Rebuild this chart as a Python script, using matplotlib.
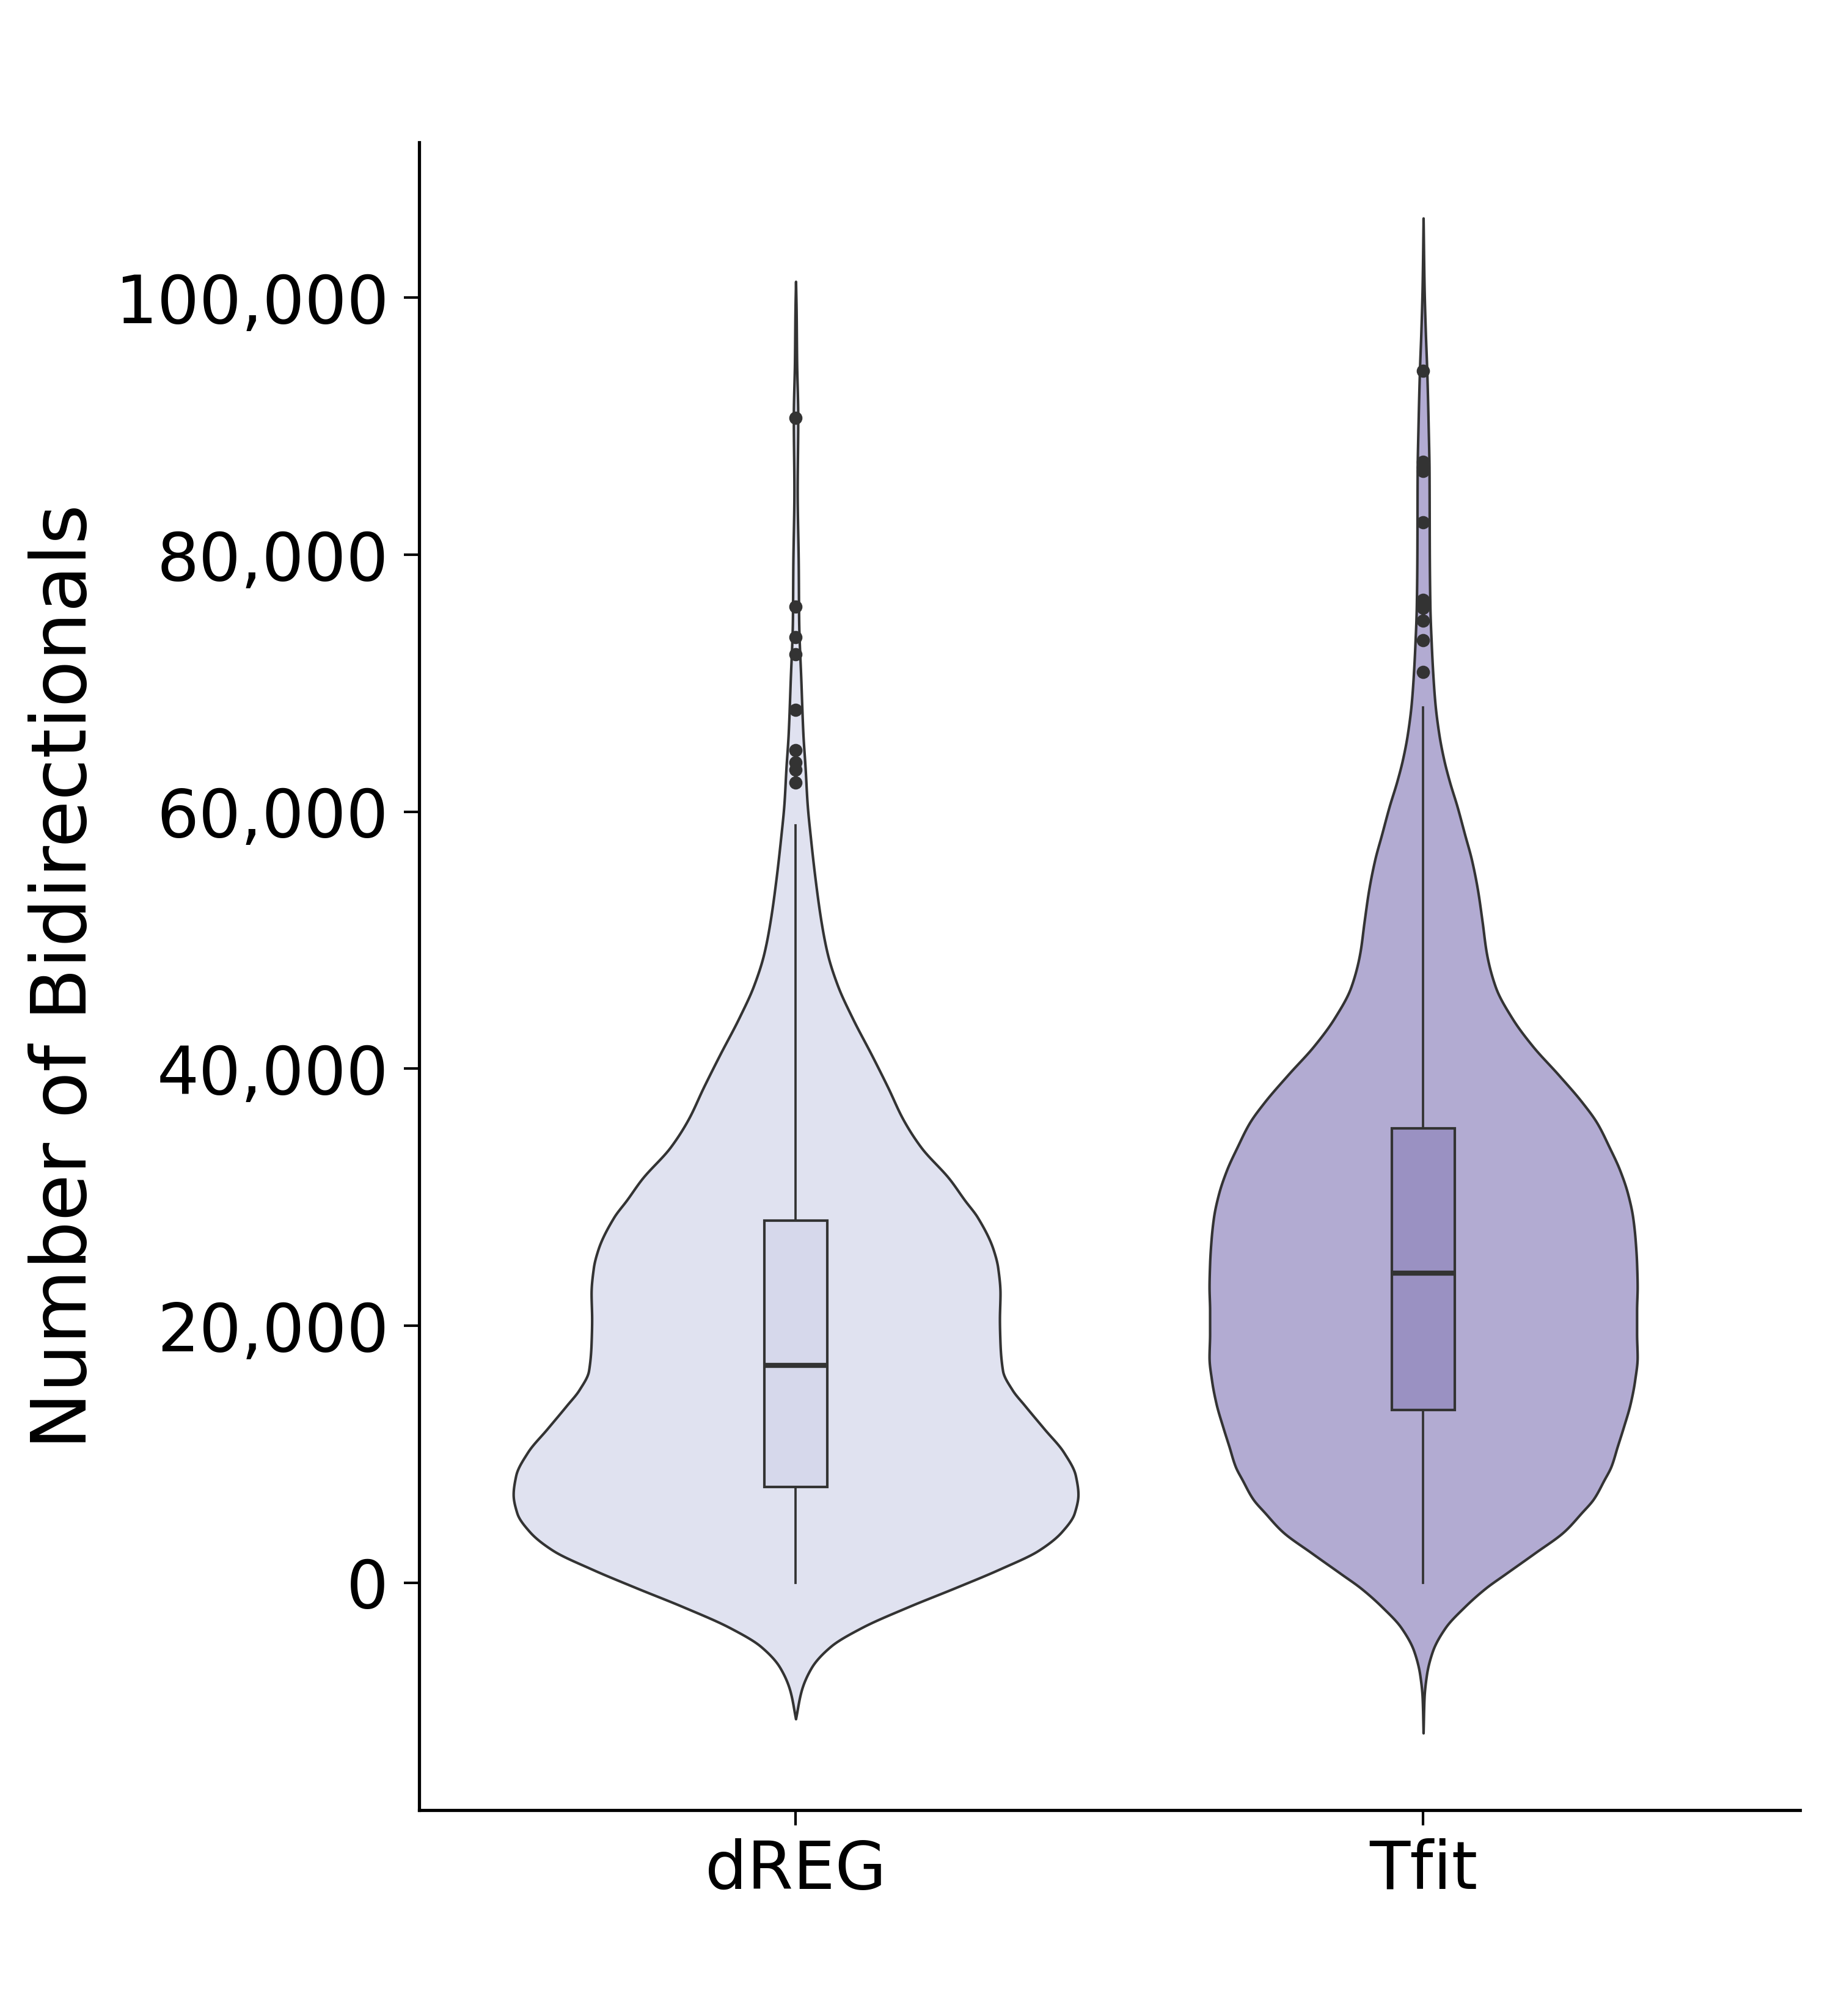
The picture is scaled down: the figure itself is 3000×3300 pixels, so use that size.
import numpy as np
import matplotlib
matplotlib.use("Agg")
import matplotlib.pyplot as plt
from matplotlib.ticker import FuncFormatter, FixedLocator

# ---------------- data ----------------
categories = ["dREG", "Tfit"]

# violin density profiles (relative density, dREG peak = 1)
dreg_kde_y = [-10600, -8410, -6600, -4960, -3510, -1870, -410, 1050, 2510, 3960,
              5420, 6870, 8330, 10150, 11970, 13790, 15000, 16500, 18630, 20500,
              22510, 24500, 25910, 28430, 29780, 31430, 33880, 36070, 38520, 40980,
              43980, 46440, 48900, 51350, 54630, 57910, 60640, 63370, 66090, 70100,
              75000, 79200, 85000, 90650, 95000, 99000, 101270]
dreg_kde_density = [0.0, 0.020, 0.056, 0.124, 0.233, 0.400, 0.564, 0.722, 0.860, 0.942,
                    0.987, 1.000, 0.991, 0.949, 0.880, 0.811, 0.767, 0.733, 0.724, 0.722,
                    0.724, 0.716, 0.700, 0.644, 0.598, 0.544, 0.444, 0.380, 0.327, 0.271,
                    0.200, 0.149, 0.113, 0.091, 0.070, 0.053, 0.041, 0.034, 0.026, 0.019,
                    0.011, 0.0096, 0.0058, 0.0078, 0.0038, 0.002, 0.0]

tfit_kde_y = [-11700, -8970, -7150, -5330, -3510, -1870, -410, 680, 2320, 3960,
              5420, 6510, 7970, 9030, 10630, 12090, 13910, 15730, 17550, 19370,
              21190, 23000, 24830, 26650, 28460, 30290, 32110, 33930, 35790, 37400,
              39550, 41740, 43920, 46350, 49010, 51440, 53870, 56290, 58230, 60420,
              62360, 64060, 66000, 68420, 70850, 73000, 76000, 80000, 86500, 90000,
              94300, 97400, 101000, 106200]
tfit_kde_density = [0.0, 0.0033, 0.012, 0.033, 0.078, 0.147, 0.222, 0.291, 0.396, 0.498,
                    0.560, 0.603, 0.640, 0.665, 0.688, 0.709, 0.733, 0.749, 0.758, 0.756,
                    0.756, 0.758, 0.756, 0.751, 0.742, 0.724, 0.696, 0.658, 0.615, 0.562,
                    0.478, 0.388, 0.315, 0.256, 0.224, 0.209, 0.193, 0.171, 0.147, 0.120,
                    0.093, 0.073, 0.056, 0.042, 0.034, 0.029, 0.024, 0.022, 0.021, 0.018,
                    0.013, 0.0078, 0.0033, 0.0]

# box-plot statistics
dreg_whislo, dreg_q1, dreg_med, dreg_q3, dreg_whishi = 0, 7450, 16930, 28200, 58950
dreg_fliers = [62270, 63280, 63830, 64810, 67930, 72240, 73600, 75970, 90650]
tfit_whislo, tfit_q1, tfit_med, tfit_q3, tfit_whishi = 0, 13460, 24100, 35350, 68120
tfit_fliers = [70870, 73360, 74880, 75880, 76180, 76480, 82550, 86500, 86800, 87250, 94320]

y_ticks = [0, 20000, 40000, 60000, 80000, 100000]

# ---------------- style ----------------
violin_colors = ["#e0e2f0", "#b2abd2"]
box_colors = ["#d6d8eb", "#9a91c2"]
line_color = "#333333"
VIOLIN_HALF = 0.45   # half-width of the widest violin, in category units
BOX_WIDTH = 0.1


def smooth_outline(x, y, n=12):
    """Monotone cubic (PCHIP) resampling of the outline, for a smooth drawn curve."""
    x = np.asarray(x, float)
    y = np.asarray(y, float)
    h = np.diff(x)
    delta = np.diff(y) / h
    m = np.zeros_like(y)
    for k in range(1, len(x) - 1):
        if delta[k - 1] * delta[k] > 0:
            w1 = 2 * h[k] + h[k - 1]
            w2 = h[k] + 2 * h[k - 1]
            m[k] = (w1 + w2) / (w1 / delta[k - 1] + w2 / delta[k])
    m[0] = delta[0]
    m[-1] = delta[-1]
    xs, ys = [], []
    for k in range(len(x) - 1):
        t = np.linspace(0, 1, n, endpoint=False)
        h00 = 2 * t**3 - 3 * t**2 + 1
        h10 = t**3 - 2 * t**2 + t
        h01 = -2 * t**3 + 3 * t**2
        h11 = t**3 - t**2
        xs.append(x[k] + t * h[k])
        ys.append(h00 * y[k] + h10 * h[k] * m[k] + h01 * y[k + 1] + h11 * h[k] * m[k + 1])
    xs.append([x[-1]])
    ys.append([y[-1]])
    return np.concatenate(xs), np.clip(np.concatenate(ys), 0, None)


fig = plt.figure(figsize=(10, 11), dpi=300)
ax = fig.add_axes([0.2287, 0.1021, 0.9819 - 0.2287, 0.9294 - 0.1021])

profiles = [(dreg_kde_y, dreg_kde_density), (tfit_kde_y, tfit_kde_density)]
for i, (yy, dd) in enumerate(profiles):
    ys, ds = smooth_outline(yy, dd)
    hw = ds * VIOLIN_HALF
    ax.fill_betweenx(ys, i - hw, i + hw, facecolor=violin_colors[i],
                     edgecolor=line_color, linewidth=1.0, zorder=1)

stats = [
    dict(whislo=dreg_whislo, q1=dreg_q1, med=dreg_med, q3=dreg_q3,
         whishi=dreg_whishi, fliers=dreg_fliers),
    dict(whislo=tfit_whislo, q1=tfit_q1, med=tfit_med, q3=tfit_q3,
         whishi=tfit_whishi, fliers=tfit_fliers),
]
bp = ax.bxp(stats, positions=[0, 1], widths=BOX_WIDTH, patch_artist=True,
            showcaps=False, manage_ticks=False,
            boxprops=dict(edgecolor=line_color, linewidth=1.0),
            whiskerprops=dict(color=line_color, linewidth=0.9),
            medianprops=dict(color=line_color, linewidth=2.0),
            flierprops=dict(marker="o", markersize=4.2, markerfacecolor=line_color,
                            markeredgecolor=line_color, linestyle="none"),
            zorder=2)
for patch, c in zip(bp["boxes"], box_colors):
    patch.set_facecolor(c)

ax.set_xlim(-0.6, 1.6)
ax.set_ylim(-17700, 112100)
ax.set_xticks([0, 1])
ax.set_xticklabels(categories)
ax.yaxis.set_major_locator(FixedLocator(y_ticks))
ax.yaxis.set_major_formatter(FuncFormatter(lambda v, p: f"{int(v):,}"))

for s in ["top", "right"]:
    ax.spines[s].set_visible(False)
for s in ["left", "bottom"]:
    ax.spines[s].set_linewidth(1.25)
    ax.spines[s].set_color("black")

ax.tick_params(axis="both", labelsize=26, length=6, width=1.0, color="black")
ax.tick_params(axis="y", pad=6)
ax.tick_params(axis="x", pad=5)
ax.set_ylabel("Number of Bidirectionals", fontsize=30, labelpad=5)

fig.savefig("out.png", dpi=300, facecolor="white")
